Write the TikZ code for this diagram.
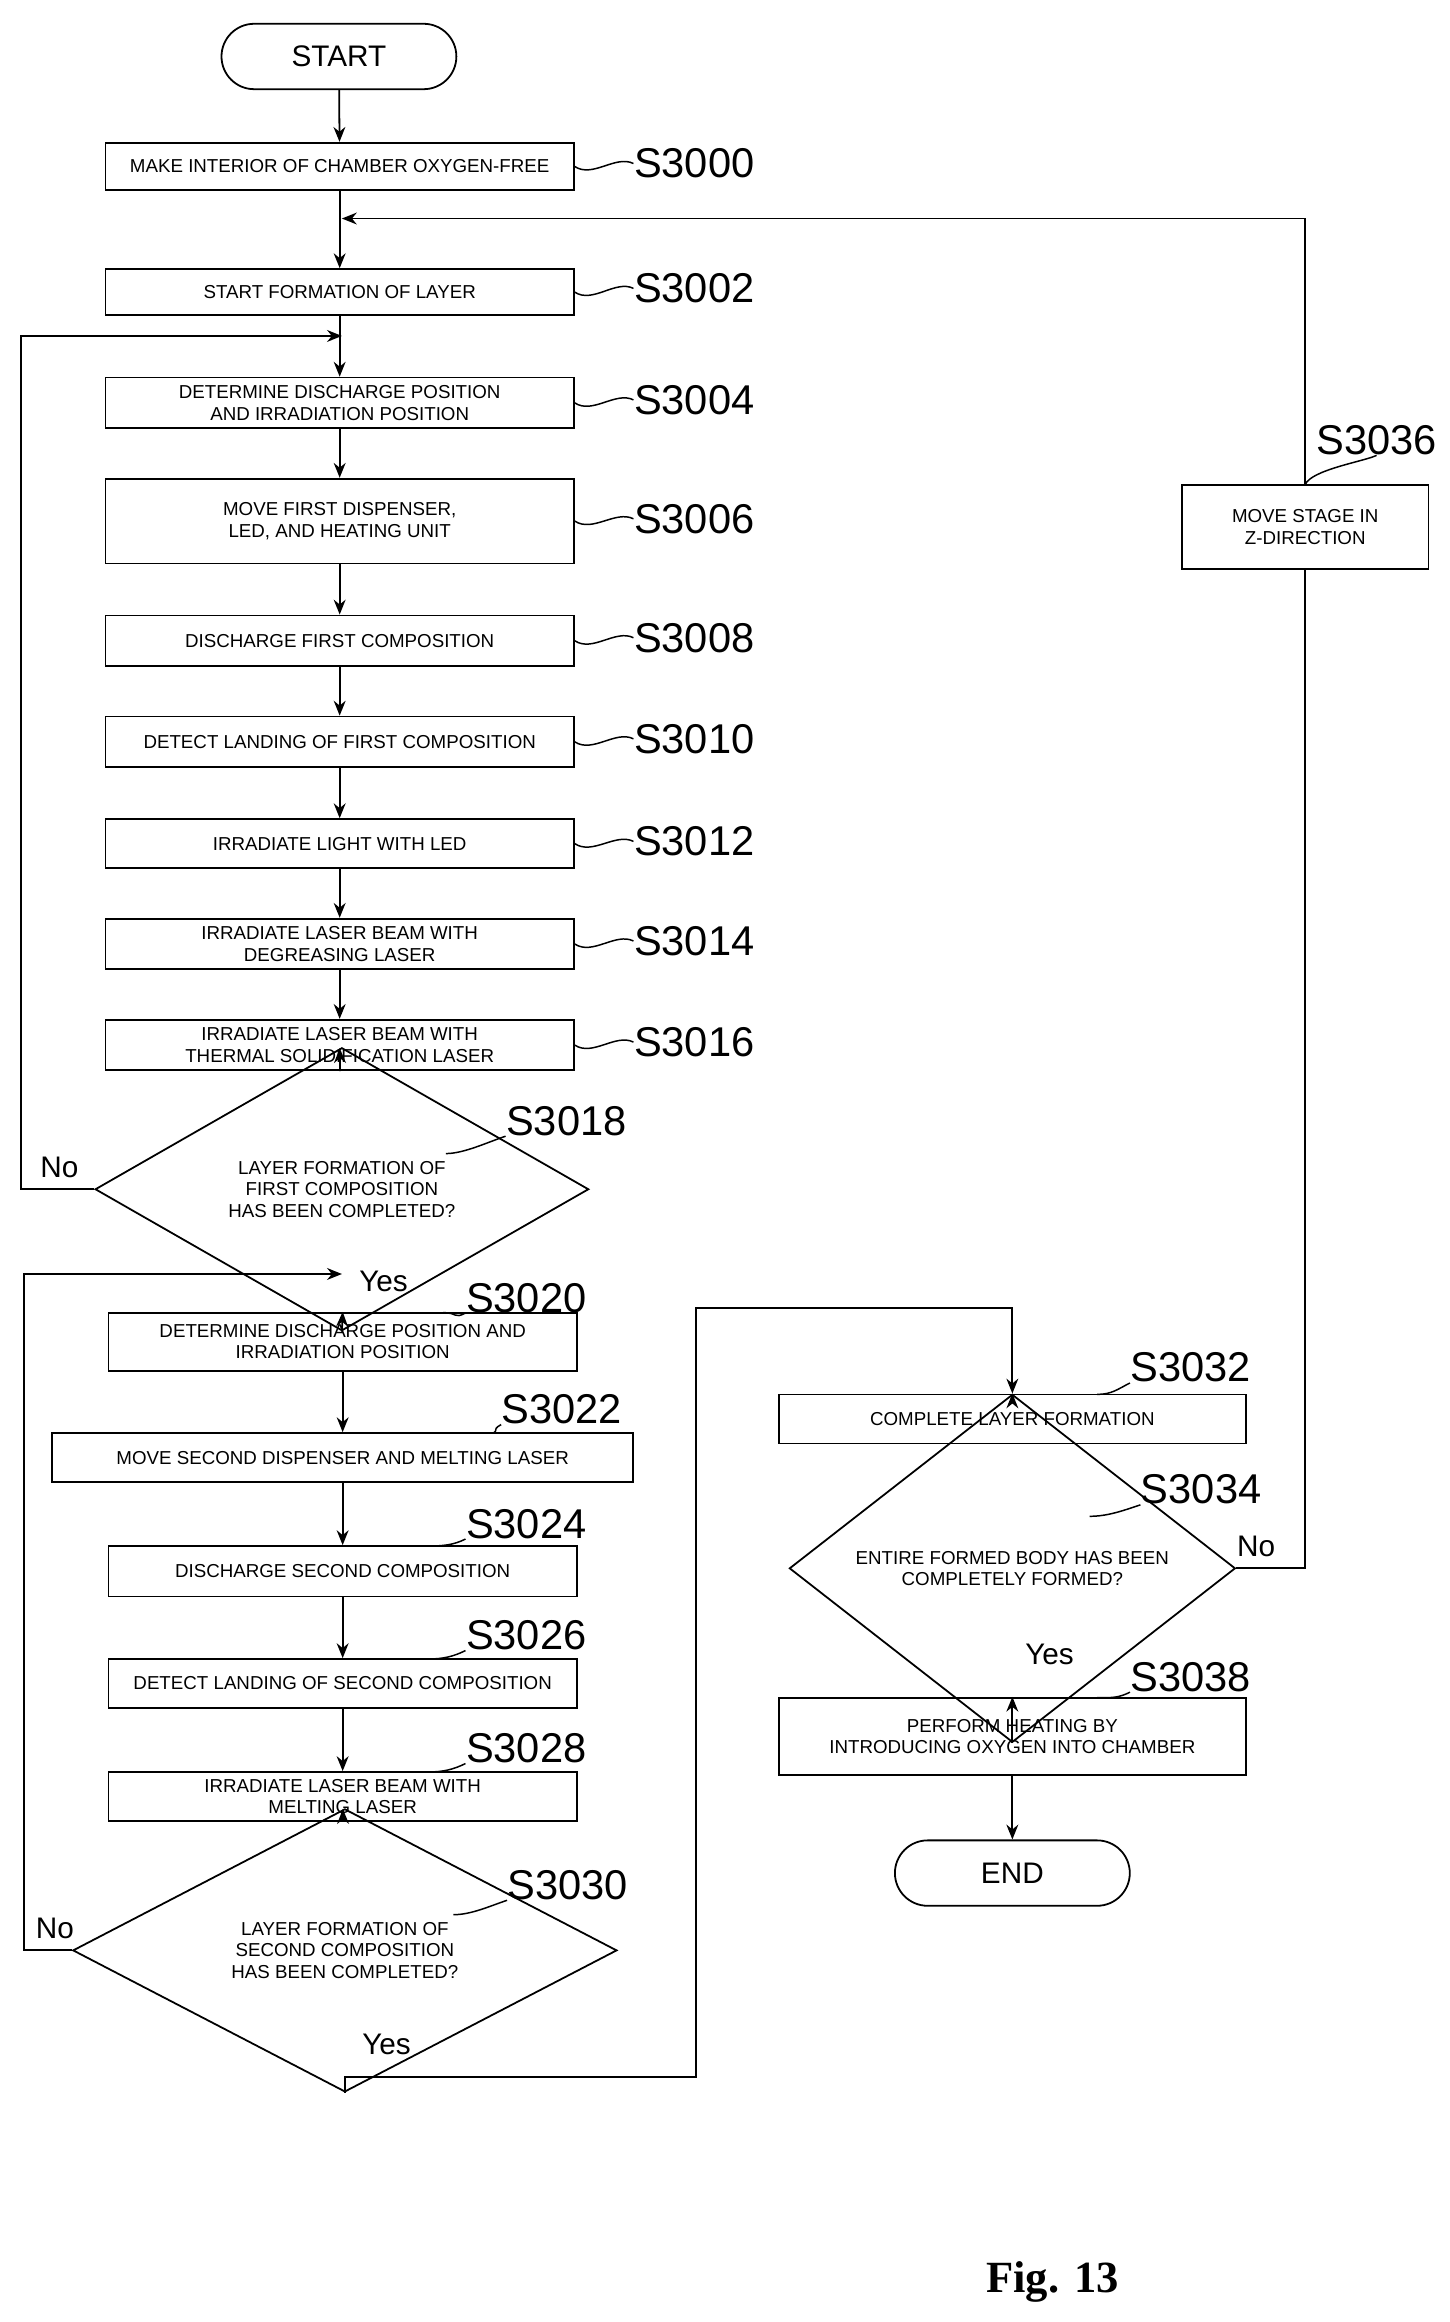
\documentclass[tikz,border=0pt]{standalone}
\usepackage{fontspec}
\setmainfont{Liberation Sans}
\newfontfamily\figfont{Liberation Serif}
\usetikzlibrary{shapes.geometric,arrows.meta}
\begin{document}
\begin{tikzpicture}[x=0.5pt,y=-0.5pt,
 box/.style={draw,line width=0.6pt,inner sep=1pt,align=center,font=\fontsize{6.3}{7.2}\selectfont},
 term/.style={draw,line width=0.6pt,rounded corners=11pt,font=\fontsize{10}{10}\selectfont,minimum width=79pt,minimum height=22pt},
 dia/.style={draw,line width=0.6pt,diamond,inner sep=0pt,align=center,font=\fontsize{6.3}{7.2}\selectfont},
 lab/.style={font=\fontsize{14}{14}\selectfont,inner sep=0pt},
 yn/.style={font=\fontsize{10}{10}\selectfont,inner sep=0pt},
 arr/.style={line width=0.6pt,-{Stealth[length=5pt,width=4pt]}},
 ln/.style={line width=0.6pt},
 sq/.style={line width=0.5pt}]
\useasboundingbox (0,0) rectangle (975,1562);
\newcommand\bx[6]{\node[box,minimum width={0.5pt*#4},minimum height={0.5pt*#5}] (#1) at (#2,#3) {#6};}
\bx{s3000}{228.5}{112}{315}{32}{MAKE INTERIOR OF CHAMBER OXYGEN-FREE}
\bx{s3002}{228.5}{196.5}{315}{31}{START FORMATION OF LAYER}
\bx{s3004}{228.5}{271}{315}{34}{DETERMINE DISCHARGE POSITION\\AND IRRADIATION POSITION}
\bx{s3006}{228.5}{350.5}{315}{57}{MOVE FIRST DISPENSER,\\LED, AND HEATING UNIT}
\bx{s3008}{228.5}{431}{315}{34}{DISCHARGE FIRST COMPOSITION}
\bx{s3010}{228.5}{499}{315}{34}{DETECT LANDING OF FIRST COMPOSITION}
\bx{s3012}{228.5}{567.5}{315}{33}{IRRADIATE LIGHT WITH LED}
\bx{s3014}{228.5}{635}{315}{34}{IRRADIATE LASER BEAM WITH\\DEGREASING LASER}
\bx{s3016}{228.5}{703}{315}{34}{IRRADIATE LASER BEAM WITH\\THERMAL SOLIDIFICATION LASER}
\bx{s3020}{230.5}{902.5}{315}{39}{DETERMINE DISCHARGE POSITION AND\\IRRADIATION POSITION}
\bx{s3022}{230.5}{980.5}{391}{33}{MOVE SECOND DISPENSER AND MELTING LASER}
\bx{s3024}{230.5}{1057}{315}{34}{DISCHARGE SECOND COMPOSITION}
\bx{s3026}{230.5}{1132.5}{315}{33}{DETECT LANDING OF SECOND COMPOSITION}
\bx{s3028}{230.5}{1208.5}{315}{33}{IRRADIATE LASER BEAM WITH\\MELTING LASER}
\bx{s3032}{681}{954.5}{314}{33}{COMPLETE LAYER FORMATION}
\bx{s3036}{878}{354.5}{166}{57}{MOVE STAGE IN\\Z-DIRECTION}
\bx{s3038}{681}{1168}{314}{52}{PERFORM HEATING BY\\INTRODUCING OXYGEN INTO CHAMBER}
\node[term] (start) at (228,38) {START};
\node[term] (end) at (681,1260) {END};
\node[dia,minimum width=166pt,minimum height=46pt] (d18) at (230,800) {LAYER FORMATION OF\\FIRST COMPOSITION\\HAS BEEN COMPLETED?};
\node[dia,minimum width=183pt,minimum height=48.5pt] (d30) at (232,1312) {LAYER FORMATION OF\\SECOND COMPOSITION\\HAS BEEN COMPLETED?};
\node[dia,minimum width=150pt,minimum height=49pt] (d34) at (681,1055) {ENTIRE FORMED BODY HAS BEEN\\COMPLETELY FORMED?};
% merge coordinates
\coordinate (m1) at (230,147);
\coordinate (m2) at (230,226);
\coordinate (m3) at (230,857);
\coordinate (r1) at (878,147);
\coordinate (l1) at (14,800);
\coordinate (l1t) at (14,226);
\coordinate (l2) at (16,1312);
\coordinate (l2t) at (16,857);
\coordinate (b1) at (232,1397);
\coordinate (b2) at (468,1397);
\coordinate (b3) at (468,880);
\coordinate (b4) at (681,880);
\coordinate (rr) at (878,1055);
% main flow
\draw[arr] (start) -- (s3000);
\draw[arr] (s3000) -- (s3000.south|-m1) -- (s3002.north);
\draw[arr] (s3002) -- (s3004);
\draw[arr] (s3004) -- (s3006);
\draw[arr] (s3006) -- (s3008);
\draw[arr] (s3008) -- (s3010);
\draw[arr] (s3010) -- (s3012);
\draw[arr] (s3012) -- (s3014);
\draw[arr] (s3014) -- (s3016);
\draw[arr] (s3016) -- (d18);
\draw[arr] (d18.south) -- (s3020.north);
\draw[arr] (s3020) -- (s3022);
\draw[arr] (s3022) -- (s3024);
\draw[arr] (s3024) -- (s3026);
\draw[arr] (s3026) -- (s3028);
\draw[arr] (s3028) -- (d30);
\draw[arr] (d30.south) -- (b1) -- (b2) -- (b3) -- (b4) -- (s3032.north);
\draw[arr] (s3032) -- (d34);
\draw[arr] (d34.south) -- (s3038.north);
\draw[arr] (s3038) -- (end);
% loops
\draw[arr] (d18.west) -- (l1) -- (l1t) -- (m2);
\draw[arr] (d30.west) -- (l2) -- (l2t) -- (m3);
\draw[ln] (d34.east) -- (rr) -- (s3036.south);
\draw[arr] (s3036.north) -- (r1) -- (m1);
% yes/no
\node[yn] at (40,785) {No};
\node[yn] at (258,862) {Yes};
\node[yn] at (37,1297) {No};
\node[yn] at (260,1375) {Yes};
\node[yn] at (845,1040) {No};
\node[yn] at (706,1113) {Yes};
% step labels
\newcommand\stp[5]{\node[lab] (L#1) at (#2,#3) {S#1};\draw[sq] (#4) .. controls +(12,8) and +(-12,-6) .. (#5);}
\stp{3000}{467}{110}{s3000.east}{L3000.west}
\stp{3002}{467}{194}{s3002.east}{L3002.west}
\stp{3004}{467}{269}{s3004.east}{L3004.west}
\stp{3006}{467}{349}{s3006.east}{L3006.west}
\stp{3008}{467}{429}{s3008.east}{L3008.west}
\stp{3010}{467}{497}{s3010.east}{L3010.west}
\stp{3012}{467}{566}{s3012.east}{L3012.west}
\stp{3014}{467}{633}{s3014.east}{L3014.west}
\stp{3016}{467}{701}{s3016.east}{L3016.west}
\node[lab] (L3018) at (381,754) {S3018};
\draw[sq] (300,776) .. controls +(12,0) and +(-12,4) .. (L3018.south west);
\node[lab] (L3020) at (354,873) {S3020};
\draw[sq] (298,883) .. controls +(10,0) and +(-8,4) .. (L3020.south west);
\node[lab] (L3022) at (378,948) {S3022};
\draw[sq] (328,964) .. controls +(10,0) and +(-8,4) .. (L3022.south west);
\node[lab] (L3024) at (354,1025) {S3024};
\draw[sq] (288,1040) .. controls +(10,0) and +(-8,4) .. (L3024.south west);
\node[lab] (L3026) at (354,1100) {S3026};
\draw[sq] (288,1116) .. controls +(10,0) and +(-8,4) .. (L3026.south west);
\node[lab] (L3028) at (354,1176) {S3028};
\draw[sq] (288,1192) .. controls +(10,0) and +(-8,4) .. (L3028.south west);
\node[lab] (L3030) at (382,1268) {S3030};
\draw[sq] (305,1288) .. controls +(12,0) and +(-12,4) .. (L3030.south west);
\node[lab] (L3032) at (801,920) {S3032};
\draw[sq] (738,938) .. controls +(10,0) and +(-8,4) .. (L3032.south west);
\node[lab] (L3034) at (808,1002) {S3034};
\draw[sq] (733,1020) .. controls +(12,0) and +(-12,4) .. (L3034.south west);
\node[lab] (L3038) at (801,1128) {S3038};
\draw[sq] (738,1142) .. controls +(10,0) and +(-8,4) .. (L3038.south west);
\node[lab] (L3036) at (926,296) {S3036};
\draw[sq] (878,326) .. controls +(4,-10) and +(-8,4) .. (L3036.south);
\node[font=\figfont\bfseries\fontsize{15}{15}\selectfont] (fig) at (708,1535) {Fig. 13};
\end{tikzpicture}
\end{document}
